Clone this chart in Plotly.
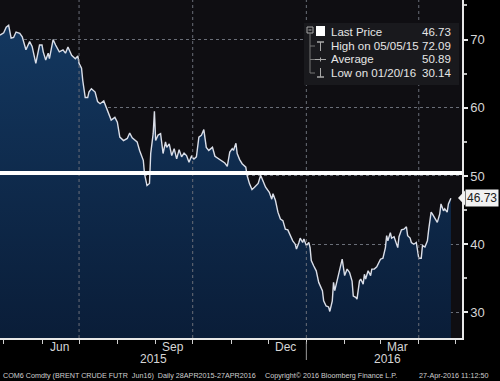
import plotly.graph_objects as go

# ---------------- data ----------------
dates = [
    "2015-04-28", "2015-05-01", "2015-05-03", "2015-05-05", "2015-05-07", "2015-05-09", "2015-05-11",
    "2015-05-14", "2015-05-16", "2015-05-19", "2015-05-22", "2015-05-24", "2015-05-27", "2015-05-30",
    "2015-06-01", "2015-06-02", "2015-06-04", "2015-06-06", "2015-06-07", "2015-06-10", "2015-06-12",
    "2015-06-15", "2015-06-18", "2015-06-20", "2015-06-22", "2015-06-25", "2015-06-28", "2015-06-30",
    "2015-07-01", "2015-07-03", "2015-07-04", "2015-07-06", "2015-07-08", "2015-07-09", "2015-07-11",
    "2015-07-14", "2015-07-16", "2015-07-18", "2015-07-21", "2015-07-23", "2015-07-25", "2015-07-27",
    "2015-07-30", "2015-08-01", "2015-08-03", "2015-08-06", "2015-08-09", "2015-08-11", "2015-08-13",
    "2015-08-17", "2015-08-19", "2015-08-22", "2015-08-23", "2015-08-25", "2015-08-27", "2015-08-28",
    "2015-08-30", "2015-08-31", "2015-09-01", "2015-09-03", "2015-09-05", "2015-09-07", "2015-09-09",
    "2015-09-10", "2015-09-12", "2015-09-14", "2015-09-16", "2015-09-18", "2015-09-20", "2015-09-22",
    "2015-09-24", "2015-09-26", "2015-09-28", "2015-09-30", "2015-10-02", "2015-10-04", "2015-10-06",
    "2015-10-08", "2015-10-10", "2015-10-12", "2015-10-14", "2015-10-17", "2015-10-19", "2015-10-22",
    "2015-10-24", "2015-10-27", "2015-10-29", "2015-10-31", "2015-11-02", "2015-11-03", "2015-11-05",
    "2015-11-06", "2015-11-08", "2015-11-10", "2015-11-13", "2015-11-14", "2015-11-16", "2015-11-18",
    "2015-11-20", "2015-11-23", "2015-11-25", "2015-11-27", "2015-11-29", "2015-12-02", "2015-12-04",
    "2015-12-05", "2015-12-07", "2015-12-09", "2015-12-11", "2015-12-13", "2015-12-15", "2015-12-17",
    "2015-12-19", "2015-12-21", "2015-12-23", "2015-12-24", "2015-12-26", "2015-12-27", "2015-12-29",
    "2015-12-30", "2016-01-01", "2016-01-03", "2016-01-04", "2016-01-05", "2016-01-07", "2016-01-09",
    "2016-01-11", "2016-01-13", "2016-01-14", "2016-01-15", "2016-01-17", "2016-01-19", "2016-01-20",
    "2016-01-22", "2016-01-23", "2016-01-24", "2016-01-26", "2016-01-28", "2016-01-30", "2016-02-01",
    "2016-02-03", "2016-02-05", "2016-02-07", "2016-02-08", "2016-02-10", "2016-02-11", "2016-02-13",
    "2016-02-14", "2016-02-16", "2016-02-17", "2016-02-18", "2016-02-20", "2016-02-22", "2016-02-23",
    "2016-02-25", "2016-02-27", "2016-02-29", "2016-03-01", "2016-03-03", "2016-03-05", "2016-03-06",
    "2016-03-07", "2016-03-09", "2016-03-10", "2016-03-12", "2016-03-13", "2016-03-15", "2016-03-16",
    "2016-03-18", "2016-03-20", "2016-03-22", "2016-03-23", "2016-03-25", "2016-03-26", "2016-03-28",
    "2016-03-30", "2016-03-31", "2016-04-01", "2016-04-03", "2016-04-04", "2016-04-06", "2016-04-08",
    "2016-04-09", "2016-04-11", "2016-04-12", "2016-04-14", "2016-04-16", "2016-04-18", "2016-04-19",
    "2016-04-21", "2016-04-22", "2016-04-24", "2016-04-25", "2016-04-27",
]
prices = [
    70.66, 71.0, 71.8, 72.09, 70.2, 70.3, 71.1,
    70.9, 70.4, 68.5, 69.7, 69.0, 66.5, 69.2,
    69.2, 68.2, 67.0, 68.0, 67.2, 70.0, 69.2,
    68.2, 68.5, 68.0, 68.9, 67.7, 67.2, 67.6,
    66.5, 65.8, 64.0, 61.5, 61.5, 62.3, 62.8,
    62.3, 60.9, 60.6, 61.0, 60.0, 58.9, 58.2,
    58.6, 57.9, 55.7, 55.2, 55.5, 56.3, 55.6,
    55.0, 53.75, 52.3, 50.3, 48.6, 48.9, 53.3,
    56.2, 59.5, 55.2, 56.0, 56.2, 53.3, 55.0,
    54.2, 54.7, 53.0, 54.0, 52.5, 53.85, 52.8,
    53.35, 53.0, 52.0, 52.9, 52.5, 52.8, 55.7,
    55.95, 56.8, 54.2, 53.75, 54.2, 52.9, 52.5,
    52.3, 51.9, 51.4, 53.5, 54.0, 53.75, 54.8,
    53.3, 52.4, 51.8, 51.3, 50.1, 48.85, 48.0,
    48.35, 48.9, 50.1, 49.1, 48.35, 47.6, 46.6,
    47.4, 46.4, 44.7, 43.7, 43.45, 42.2, 42.1,
    41.25, 40.5, 40.0, 39.3, 40.25, 40.9, 40.25,
    40.75, 39.8, 40.25, 39.5, 37.6, 36.8, 36.1,
    34.4, 33.4, 33.2, 31.7, 30.95, 30.8, 30.14,
    31.7, 34.4, 33.2, 34.6, 36.35, 37.8, 35.4,
    36.35, 35.85, 34.6, 32.4, 32.2, 31.95, 34.6,
    34.9, 34.15, 35.6, 34.9, 36.1, 35.4, 36.35,
    36.35, 36.7, 37.5, 37.8, 37.95, 39.5, 41.25,
    40.5, 41.7, 40.9, 41.1, 40.6, 39.5, 41.1,
    42.1, 42.2, 42.55, 41.25, 40.9, 40.25, 40.0,
    40.25, 39.0, 37.95, 37.95, 39.8, 39.6, 40.5,
    42.1, 44.7, 44.45, 43.7, 43.2, 44.45, 45.9,
    44.9, 45.2, 44.7, 45.9, 46.73,
]

legend_labels = ["Last Price", "High on 05/05/15", "Average", "Low on 01/20/16"]
legend_values = ["46.73", "72.09", "50.89", "30.14"]
last_price = 46.73
avg_line_level = 50.45

y_tickvals = [30, 40, 50, 60, 70]
y_minor_tickvals = [35, 45, 55, 65, 75]
month_label_dates = ["2015-06-15", "2015-09-15", "2015-12-15", "2016-03-15"]
month_labels = ["Jun", "Sep", "Dec", "Mar"]
month_starts = ["2015-05-01", "2015-06-01", "2015-07-01", "2015-08-01", "2015-09-01",
                "2015-10-01", "2015-11-01", "2015-12-01", "2016-01-01", "2016-02-01",
                "2016-03-01", "2016-04-01", "2016-05-01"]
quarter_starts = ["2015-07-01", "2015-10-01", "2016-01-01", "2016-04-01"]
year_labels = ["2015", "2016"]
year_label_dates = ["2015-08-30", "2016-03-07"]

footer_left = "COM6 Comdty (BRENT CRUDE FUTR  Jun16)  Daily 28APR2015-27APR2016"
footer_mid = "Copyright\u00a9 2016 Bloomberg Finance L.P."
footer_right = "27-Apr-2016 11:12:50"

# ---------------- figure ----------------
W, H = 500, 381
ML, MR, MT, MB = 0, 38, 0, 43
PW, PH = W - ML - MR, H - MT - MB


def px(x):
    return (x - ML) / PW


def py(y):
    return 1 - (y - MT) / PH


FONT = "Liberation Sans, Arial, sans-serif"

fig = go.Figure()
fig.add_trace(go.Scatter(
    x=dates, y=prices, mode="lines",
    line=dict(color="#dadee8", width=1.4),
    fill="tozeroy",
    fillgradient=dict(type="vertical", start=26, stop=72,
                      colorscale=[[0, "#0a1d38"], [1, "#13375f"]]),
    hoverinfo="skip", showlegend=False,
))

shapes = []
# vertical dotted grid lines at quarter starts
for q in quarter_starts:
    shapes.append(dict(type="line", xref="x", yref="paper", x0=q, x1=q, y0=0, y1=1,
                       line=dict(color="#6a6e78", width=1, dash="dot"), layer="above"))
# average line
shapes.append(dict(type="line", xref="paper", yref="y", x0=0, x1=1.0,
                   y0=avg_line_level, y1=avg_line_level,
                   line=dict(color="#ffffff", width=4), layer="above"))
# year separator
shapes.append(dict(type="line", xref="x", yref="paper", x0="2016-01-01", x1="2016-01-01",
                   y0=py(342), y1=py(360), line=dict(color="#9a9a9a", width=1)))
# legend box
shapes.append(dict(type="rect", xref="paper", yref="paper", x0=px(304), x1=px(459),
                   y0=py(85), y1=py(23), fillcolor="#19191d", line=dict(width=0), layer="above"))
gcol = "#a8a8a8"
# tree glyph
shapes.append(dict(type="rect", xref="paper", yref="paper", x0=px(307), x1=px(313),
                   y0=py(33), y1=py(27), line=dict(color=gcol, width=1), layer="above"))
shapes.append(dict(type="line", xref="paper", yref="paper", x0=px(308.5), x1=px(311.5),
                   y0=py(30), y1=py(30), line=dict(color=gcol, width=1), layer="above"))
shapes.append(dict(type="line", xref="paper", yref="paper", x0=px(310), x1=px(310),
                   y0=py(33), y1=py(73), line=dict(color="#777", width=1), layer="above"))
for ry in (46, 59.5, 73):
    shapes.append(dict(type="line", xref="paper", yref="paper", x0=px(310), x1=px(315),
                       y0=py(ry), y1=py(ry), line=dict(color="#777", width=1), layer="above"))
# last price square
shapes.append(dict(type="rect", xref="paper", yref="paper", x0=px(316), x1=px(325),
                   y0=py(36), y1=py(26), fillcolor="#ffffff", line=dict(width=0), layer="above"))
# high glyph
shapes.append(dict(type="line", xref="paper", yref="paper", x0=px(320.5), x1=px(320.5),
                   y0=py(42), y1=py(51), line=dict(color=gcol, width=1), layer="above"))
shapes.append(dict(type="line", xref="paper", yref="paper", x0=px(317), x1=px(324),
                   y0=py(42), y1=py(42), line=dict(color=gcol, width=1.5), layer="above"))
# average glyph
shapes.append(dict(type="line", xref="paper", yref="paper", x0=px(315), x1=px(326),
                   y0=py(59.5), y1=py(59.5), line=dict(color=gcol, width=1), layer="above"))
shapes.append(dict(type="line", xref="paper", yref="paper", x0=px(320.5), x1=px(320.5),
                   y0=py(57.5), y1=py(61.5), line=dict(color=gcol, width=1), layer="above"))
# low glyph
shapes.append(dict(type="line", xref="paper", yref="paper", x0=px(320.5), x1=px(320.5),
                   y0=py(68), y1=py(77), line=dict(color=gcol, width=1), layer="above"))
shapes.append(dict(type="line", xref="paper", yref="paper", x0=px(317), x1=px(324),
                   y0=py(77), y1=py(77), line=dict(color=gcol, width=1.5), layer="above"))
# price tag arrow
shapes.append(dict(type="path", xref="paper", yref="paper",
                   path=f"M {px(458)} {py(198)} L {px(465)} {py(190.5)} L {px(465)} {py(205.5)} Z",
                   fillcolor="#f2f2f2", line=dict(width=0), layer="above"))

annotations = []
rows_y = [32, 46, 59.5, 73]
for lab, val, ry in zip(legend_labels, legend_values, rows_y):
    annotations.append(dict(xref="paper", yref="paper", x=px(329), y=py(ry), text=lab,
                            showarrow=False, xanchor="left", yanchor="middle",
                            font=dict(family=FONT, size=11.5, color="#e6e6e6")))
    annotations.append(dict(xref="paper", yref="paper", x=px(453), y=py(ry), text=val,
                            showarrow=False, xanchor="right", yanchor="middle",
                            font=dict(family=FONT, size=11.5, color="#e6e6e6")))
# price tag
annotations.append(dict(xref="paper", yref="y", x=px(465), y=last_price, text=f"{last_price:.2f}",
                        showarrow=False, xanchor="left", yanchor="middle", bgcolor="#f2f2f2",
                        borderpad=1, font=dict(family=FONT, size=12, color="#202020")))
# month labels
for d, lab in zip(month_label_dates, month_labels):
    annotations.append(dict(xref="x", yref="paper", x=d, y=py(346.5), text=lab, showarrow=False,
                            xanchor="center", yanchor="middle",
                            font=dict(family=FONT, size=12, color="#d6d6d6")))
for d, lab in zip(year_label_dates, year_labels):
    annotations.append(dict(xref="x", yref="paper", x=d, y=py(359), text=lab, showarrow=False,
                            xanchor="center", yanchor="middle",
                            font=dict(family=FONT, size=12, color="#d6d6d6")))
# footer
for xx, txt in ((1, footer_left), (263, footer_mid), (417, footer_right)):
    annotations.append(dict(xref="paper", yref="paper", x=px(xx), y=py(375.5), text=txt,
                            showarrow=False, xanchor="left", yanchor="middle",
                            font=dict(family=FONT, size=7.2, color="#cfcfcf")))

fig.update_layout(
    width=W, height=H,
    margin=dict(l=ML, r=MR, t=MT, b=MB, pad=0),
    paper_bgcolor="#000000",
    plot_bgcolor="#0f0e12",
    showlegend=False,
    shapes=shapes,
    annotations=annotations,
    font=dict(family=FONT, color="#d6d6d6"),
    xaxis=dict(
        type="date", range=["2015-04-28", "2016-05-06"],
        tickmode="array", tickvals=month_starts, ticktext=[""] * len(month_starts),
        ticks="outside", ticklen=4, tickcolor="#d0d0d0", tickwidth=1,
        showgrid=False, zeroline=False,
        showline=True, linecolor="#e8e8e8", linewidth=1.5,
        fixedrange=True,
    ),
    yaxis=dict(
        side="right", range=[26.25, 75.8],
        tickmode="array", tickvals=y_tickvals, ticktext=[str(v) for v in y_tickvals],
        ticks="outside", ticklen=4, tickwidth=2, tickcolor="#e8e8e8",
        tickfont=dict(family=FONT, size=13, color="#d6d6d6"),
        showgrid=True, gridcolor="#6a6e78", griddash="dot", gridwidth=1,
        minor=dict(tickvals=y_minor_tickvals, ticks="outside", ticklen=3, tickcolor="#bbbbbb",
                   showgrid=False),
        zeroline=False,
        showline=True, linecolor="#e8e8e8", linewidth=1.5,
        fixedrange=True,
    ),
)

fig.write_html(
    "out.html",
    config={"displayModeBar": False},
    post_script="document.body.style.margin='0px';document.body.style.background='#000';",
)
